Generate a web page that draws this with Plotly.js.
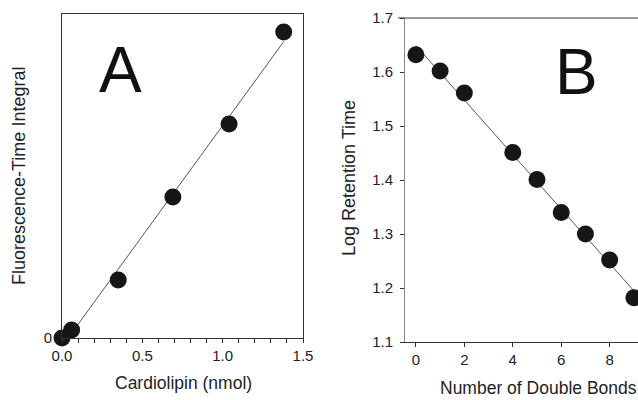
<!DOCTYPE html>
<html>
<head>
<meta charset="utf-8">
<script src="https://cdn.plot.ly/plotly-3.0.1.min.js"></script>
<style>html,body{margin:0;padding:0;background:#fff;}#chart{width:638px;height:400px;}</style>
</head>
<body>
<div id="chart"></div>
<script>
// Panel A data
const cardiolipin = [0.0, 0.06, 0.35, 0.69, 1.04, 1.38];
const fluorIntegral = [0, 8, 58, 141, 214, 306];
// Panel B data
const doubleBonds = [0, 1, 2, 4, 5, 6, 7, 8, 9];
const logRetention = [1.632, 1.602, 1.561, 1.451, 1.401, 1.340, 1.300, 1.252, 1.182];
const xTicksA = [0, 0.5, 1.0, 1.5];
const xTickTextA = ['0.0', '0.5', '1.0', '1.5'];
const yTicksA = [0];
const xTicksB = [0, 2, 4, 6, 8];
const yTicksB = [1.1, 1.2, 1.3, 1.4, 1.5, 1.6, 1.7];

function fit(xs, ys) {
  const n = xs.length;
  const mx = xs.reduce((a, b) => a + b, 0) / n;
  const my = ys.reduce((a, b) => a + b, 0) / n;
  let sxy = 0, sxx = 0;
  for (let i = 0; i < n; i++) { sxy += (xs[i] - mx) * (ys[i] - my); sxx += (xs[i] - mx) ** 2; }
  const m = sxy / sxx;
  return { m: m, b: my - m * mx };
}
const fA = fit(cardiolipin, fluorIntegral);
const fB = fit(doubleBonds, logRetention);
const lineAx = [cardiolipin[0], cardiolipin[cardiolipin.length - 1]];
const lineBx = [doubleBonds[0], doubleBonds[doubleBonds.length - 1]];

const font = 'Liberation Sans, Arial, sans-serif';
const mk = { size: 17, color: '#161616' };

const traces = [
  { x: lineAx, y: lineAx.map(v => fA.m * v + fA.b), mode: 'lines', line: { color: '#555', width: 1 }, xaxis: 'x', yaxis: 'y', cliponaxis: false, hoverinfo: 'skip' },
  { x: cardiolipin, y: fluorIntegral, mode: 'markers', marker: mk, xaxis: 'x', yaxis: 'y', cliponaxis: false },
  { x: lineBx, y: lineBx.map(v => fB.m * v + fB.b), mode: 'lines', line: { color: '#555', width: 1 }, xaxis: 'x2', yaxis: 'y2', cliponaxis: false, hoverinfo: 'skip' },
  { x: doubleBonds, y: logRetention, mode: 'markers', marker: mk, xaxis: 'x2', yaxis: 'y2', cliponaxis: false }
];

const axBase = {
  showgrid: false, zeroline: false, showline: true, linecolor: '#333', linewidth: 1,
  ticks: 'outside', ticklen: 4, tickcolor: '#333',
  tickfont: { family: font, size: 15, color: '#222' }
};
const titleFontX = { family: font, size: 17.5, color: '#222' };
const titleFontY = { family: font, size: 18, color: '#222' };

const layout = {
  width: 638, height: 400,
  margin: { l: 0, r: 0, t: 0, b: 0 },
  paper_bgcolor: '#fff', plot_bgcolor: '#fff',
  showlegend: false,
  font: { family: font, color: '#222' },
  xaxis: Object.assign({}, axBase, {
    domain: [62 / 638, 303 / 638], range: [0, 1.5], mirror: true,
    tickvals: xTicksA, ticktext: xTickTextA,
    minor: { dtick: 0.1, ticks: 'outside', ticklen: 4, tickcolor: '#333' },
    anchor: 'y'
  }),
  yaxis: Object.assign({}, axBase, {
    domain: [62 / 400, 386 / 400], range: [0, 324], mirror: true, ticks: '',
    tickvals: yTicksA, ticktext: ['0'], ticklabelstandoff: 6,
    anchor: 'x'
  }),
  xaxis2: Object.assign({}, axBase, {
    domain: [405 / 638, 1], range: [-0.45, 9.17],
    tickvals: xTicksB,
    anchor: 'y2'
  }),
  yaxis2: Object.assign({}, axBase, {
    domain: [58 / 400, 382 / 400], range: [1.1, 1.7], linecolor: '#888',
    tickvals: yTicksB, tickformat: '.1f', ticklabelstandoff: 4,
    anchor: 'x2'
  }),
  shapes: [
    { type: 'line', xref: 'paper', yref: 'paper', x0: 398 / 638, x1: 1, y0: 382 / 400, y1: 382 / 400, line: { color: '#333', width: 1 } }
  ],
  annotations: [
    { text: 'A', xref: 'paper', yref: 'paper', x: 120 / 638, y: 1 - 70 / 400, showarrow: false, font: { family: font, size: 64, color: '#111' }, xanchor: 'center', yanchor: 'middle' },
    { text: 'B', xref: 'paper', yref: 'paper', x: 576 / 638, y: 1 - 72 / 400, showarrow: false, font: { family: font, size: 64, color: '#111' }, xanchor: 'center', yanchor: 'middle' },
    { text: 'Cardiolipin (nmol)', xref: 'paper', yref: 'paper', x: 183 / 638, y: 1 - 383 / 400, showarrow: false, font: titleFontX, xanchor: 'center', yanchor: 'middle' },
    { text: 'Fluorescence-Time Integral', xref: 'paper', yref: 'paper', x: 19 / 638, y: 1 - 176 / 400, showarrow: false, textangle: -90, font: titleFontY, xanchor: 'center', yanchor: 'middle' },
    { text: 'Number of Double Bonds', xref: 'paper', yref: 'paper', x: 538 / 638, y: 1 - 388 / 400, showarrow: false, font: titleFontX, xanchor: 'center', yanchor: 'middle' },
    { text: 'Log Retention Time', xref: 'paper', yref: 'paper', x: 349 / 638, y: 1 - 178 / 400, showarrow: false, textangle: -90, font: titleFontY, xanchor: 'center', yanchor: 'middle' }
  ]
};

Plotly.newPlot('chart', traces, layout, { displayModeBar: false, staticPlot: true });
</script>
</body>
</html>
